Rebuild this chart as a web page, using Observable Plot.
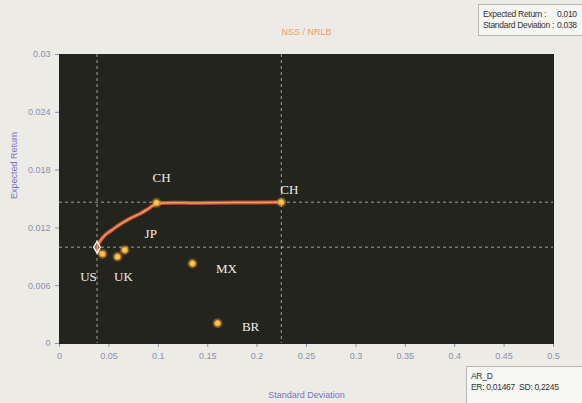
<!DOCTYPE html>
<html>
<head>
<meta charset="utf-8">
<script src="https://cdn.jsdelivr.net/npm/d3@7"></script>
<script src="https://cdn.jsdelivr.net/npm/@observablehq/plot@0.6"></script>
<style>
  html, body { margin: 0; padding: 0; background: #ecebe5; }
  #wrap { position: relative; width: 582px; height: 403px; overflow: hidden; }
  .box { position: absolute; background: #f6f6f2; border: 1px solid #b8b8b0; font-family: "Liberation Sans Narrow", "Liberation Sans", Arial, sans-serif; font-size: 8.5px; letter-spacing: -0.3px; color: #333; line-height: 11px; white-space: nowrap; }
</style>
</head>
<body>
<div id="wrap"></div>
<script>
// Assets (individual markets)
const assetNames = ["US", "UK", "JP", "MX", "BR", "CH", "CH"];
const assetSD = [0.0435, 0.0587, 0.0660, 0.1346, 0.1600, 0.0982, 0.2245];
const assetER = [0.0093, 0.0090, 0.0097, 0.0083, 0.0021, 0.0146, 0.01467];

// Efficient frontier
const frontierSD = [0.0412, 0.0398, 0.0384, 0.0382, 0.0396, 0.0415, 0.0466, 0.0533, 0.0617, 0.0719, 0.0820, 0.0901, 0.0982, 0.1400, 0.1800, 0.2245];
const frontierER = [0.0094, 0.0095, 0.0097, 0.0100, 0.0104, 0.0107, 0.0113, 0.0118, 0.0124, 0.0130, 0.0135, 0.0140, 0.0145, 0.01458, 0.01463, 0.01467];

// Selected minimum-variance portfolio and AR_D portfolio
const minVar = {sd: 0.038, er: 0.010};
const arD = {sd: 0.2245, er: 0.01467};

const xTicks = [0, 0.05, 0.1, 0.15, 0.2, 0.25, 0.3, 0.35, 0.4, 0.45, 0.5];
const yTicks = [0, 0.006, 0.012, 0.018, 0.024, 0.03];

const title = "NSS / NRLB";
const xLabel = "Standard Deviation";
const yLabel = "Expected Return";

const assets = assetNames.map((n, i) => ({name: n, sd: assetSD[i], er: assetER[i]}));
const frontier = frontierSD.map((s, i) => ({sd: s, er: frontierER[i]}));

// label placement (pixel offsets), per asset in order
const labelDx = [-14, 6, 26, 34, 33, 5, 8];
const labelDy = [23, 20, -16, 5, 4, -25, -12];

const tickFont = "Liberation Sans Narrow, Liberation Sans, Arial, sans-serif";

const labelMarks = assets.map((d, i) =>
  Plot.text([d], {x: "sd", y: "er", text: "name", dx: labelDx[i], dy: labelDy[i], fill: "#efefe8",
    fontFamily: "Liberation Serif, Times New Roman, serif", fontSize: 13}));

const chart = Plot.plot({
  width: 582,
  height: 403,
  marginLeft: 59,
  marginRight: 29,
  marginTop: 54,
  marginBottom: 60,
  style: {background: "#ecebe5", fontFamily: tickFont, fontSize: "9px", color: "#8c90b4"},
  x: {domain: [0, 0.5], ticks: xTicks, tickFormat: d => String(d), label: null, tickSize: 4},
  y: {domain: [0, 0.03], ticks: yTicks, tickFormat: d => String(d), label: null, tickSize: 4},
  marks: [
    Plot.frame({fill: "#24241f", stroke: "#24241f"}),
    Plot.ruleX([minVar.sd, arD.sd], {stroke: "#d8d8d0", strokeOpacity: 0.7, strokeDasharray: "3,3"}),
    Plot.ruleY([minVar.er, arD.er], {stroke: "#d8d8d0", strokeOpacity: 0.7, strokeDasharray: "3,3"}),
    Plot.line(frontier, {x: "sd", y: "er", stroke: "#c9532c", strokeWidth: 4, curve: "catmull-rom", strokeOpacity: 0.9}),
    Plot.line(frontier, {x: "sd", y: "er", stroke: "#f29a68", strokeWidth: 1.5, curve: "catmull-rom"}),
    Plot.dot(assets, {x: "sd", y: "er", r: 5, fill: "#f0a030", fillOpacity: 0.35}),
    Plot.dot(assets, {x: "sd", y: "er", r: 3, fill: "#f7c558", stroke: "#e08a20", strokeWidth: 0.8}),
    Plot.dot([minVar], {x: "sd", y: "er", symbol: "diamond", r: 3.5, stroke: "#f4f4f4", strokeWidth: 1.5, fill: "none"}),
    ...labelMarks,
    Plot.text([title], {frameAnchor: "top", dy: -26, fill: "#f0986a", fontSize: 9}),
    Plot.text([xLabel], {frameAnchor: "bottom", dy: 54, fill: "#7474c4", fontSize: 9}),
    Plot.text([yLabel], {frameAnchor: "left", dx: -45, rotate: -90, fill: "#7474c4", fontSize: 9})
  ]
});

const wrap = document.getElementById("wrap");
wrap.appendChild(chart);

const topBox = document.createElement("div");
topBox.className = "box";
topBox.style.cssText = "left:478px;top:4px;width:106px;height:32px;padding:4px 0 0 4px;box-sizing:border-box;";
topBox.innerHTML = `<div><span style="display:inline-block;width:74px">Expected Return :</span>${minVar.er.toFixed(3)}</div><div><span style="display:inline-block;width:74px">Standard Deviation :</span>${minVar.sd.toFixed(3)}</div>`;
wrap.appendChild(topBox);

const botBox = document.createElement("div");
botBox.className = "box";
botBox.style.cssText = "left:466px;top:366px;width:118px;height:40px;padding:4px 0 0 4px;box-sizing:border-box;";
botBox.innerHTML = `<div>AR_D</div><div>ER: ${String(arD.er).replace(".", ",")}&nbsp;&nbsp;SD: ${String(arD.sd).replace(".", ",")}</div>`;
wrap.appendChild(botBox);
</script>
</body>
</html>
